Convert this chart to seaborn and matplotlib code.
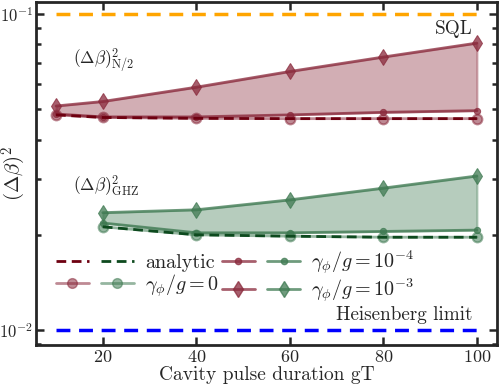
import matplotlib
matplotlib.use("Agg")
import matplotlib.pyplot as plt
import numpy as np
import seaborn as sns
from matplotlib.lines import Line2D
from matplotlib.legend_handler import HandlerTuple

# cavity pulse duration gT
gt_n2 = [10, 20, 40, 60, 80, 100]
gt_ghz = [20, 40, 60, 80, 100]

# (delta beta)^2 for the N/2 state
n2_analytic = [0.0479, 0.0470, 0.0467, 0.0466, 0.0466, 0.0466]
n2_gamma0 = [0.0479, 0.0470, 0.0467, 0.0466, 0.0466, 0.0466]
n2_gamma1e4 = [0.0482, 0.0472, 0.0472, 0.0479, 0.0488, 0.0494]
n2_gamma1e3 = [0.0511, 0.0528, 0.0586, 0.0657, 0.0730, 0.0808]

# (delta beta)^2 for the GHZ state
ghz_analytic = [0.0212, 0.0200, 0.0198, 0.01965, 0.01965]
ghz_gamma0 = [0.0212, 0.0200, 0.0198, 0.01965, 0.01965]
ghz_gamma1e4 = [0.0218, 0.0203, 0.0203, 0.0205, 0.0207]
ghz_gamma1e3 = [0.0235, 0.0240, 0.0258, 0.0281, 0.0307]

limit_x = [10, 100]
sql_level = [0.1, 0.1]
heisenberg_level = [0.01, 0.01]

RED = "#8a2a3c"
GREEN = "#3f7a52"
RED_DARK = "#6e0010"
GREEN_DARK = "#0d4a1e"
DASH = (0, (3.5, 2))

sns.set_style("ticks")
plt.rcParams["font.family"] = ["cmr10", "DejaVu Serif"]
plt.rcParams["mathtext.fontset"] = "cm"
plt.rcParams["axes.formatter.use_mathtext"] = True

fig = plt.figure(figsize=(4.99, 3.88), dpi=100)
ax = fig.add_axes([0.072, 0.111, 0.924, 0.884])

# reference limits
sns.lineplot(x=limit_x, y=sql_level, ax=ax, color="orange", lw=2.5)
sns.lineplot(x=limit_x, y=heisenberg_level, ax=ax, color="blue", lw=2.5)
ax.lines[0].set_linestyle((0, (4, 2.5)))
ax.lines[1].set_linestyle((0, (4, 2.5)))

for x, ana, g0, g4, g3, col, dark in [
    (gt_n2, n2_analytic, n2_gamma0, n2_gamma1e4, n2_gamma1e3, RED, RED_DARK),
    (gt_ghz, ghz_analytic, ghz_gamma0, ghz_gamma1e4, ghz_gamma1e3, GREEN, GREEN_DARK),
]:
    ax.fill_between(x, g4, g3, color=col, alpha=0.38, lw=1.5, edgecolor=col)
    sns.lineplot(x=x, y=g0, ax=ax, color=col, lw=2, marker="o", ms=7,
                 alpha=0.55, markeredgecolor=col, markeredgewidth=1.5)
    sns.lineplot(x=x, y=g4, ax=ax, color=col, lw=2, marker="o", ms=4.5,
                 alpha=0.75, markeredgecolor=col)
    sns.lineplot(x=x, y=g3, ax=ax, color=col, lw=2, marker="d", ms=8.5,
                 alpha=0.75, markeredgecolor=col)
    sns.lineplot(x=x, y=ana, ax=ax, color=dark, lw=2)
    ax.lines[-1].set_linestyle(DASH)

ax.set_yscale("log")
ax.set_xlim(5.7, 104.3)
ax.set_ylim(0.00897, 0.109)
ax.set_xticks([20, 40, 60, 80, 100])
ax.tick_params(which="both", direction="in", top=True, right=True, width=1.8,
               labelsize=13, pad=3)
ax.tick_params(axis="y", labelsize=12, pad=2)
ax.tick_params(which="major", length=6)
ax.tick_params(which="minor", length=3.5)
for s in ax.spines.values():
    s.set_linewidth(2)

ax.set_xlabel("Cavity pulse duration gT", fontsize=14, labelpad=1)
ax.set_ylabel(r"$(\Delta\beta)^2$", fontsize=15)
ax.yaxis.set_label_coords(-0.018, 0.5)

ax.text(99, 0.0893, "SQL", ha="right", va="center", fontsize=13.8)
ax.text(99, 0.01116, "Heisenberg limit", ha="right", va="center", fontsize=13.8)
ax.text(13.6, 0.0715, r"$(\Delta\beta)^2_{\mathrm{N/2}}$", ha="left", va="center", fontsize=12.5)
ax.text(13.6, 0.02857, r"$(\Delta\beta)^2_{\mathrm{GHZ}}$", ha="left", va="center", fontsize=12.5)


def pair(**kw):
    return (Line2D([], [], color=RED, **kw), Line2D([], [], color=GREEN, **kw))


h_ana = (Line2D([], [], color=RED_DARK, lw=2, ls=DASH),
         Line2D([], [], color=GREEN_DARK, lw=2, ls=DASH))
h_g0 = pair(lw=2, marker="o", ms=7, alpha=0.55)
h_g4 = pair(lw=2, marker="o", ms=4.5, alpha=0.75)
h_g3 = pair(lw=2, marker="d", ms=8.5, alpha=0.75)

ax.legend([h_ana, h_g0, h_g4, h_g3],
          ["analytic", r"$\gamma_\phi/g=0$", r"$\gamma_\phi/g=10^{-4}$", r"$\gamma_\phi/g=10^{-3}$"],
          handler_map={tuple: HandlerTuple(ndivide=None, pad=0.6)},
          ncol=2, loc="upper left", bbox_to_anchor=(0.025, 0.305), frameon=False,
          fontsize=14.5, handlelength=3.9, columnspacing=0.15, handletextpad=0.55,
          labelspacing=0.0, borderaxespad=0)

fig.savefig("out.png", dpi=100)
